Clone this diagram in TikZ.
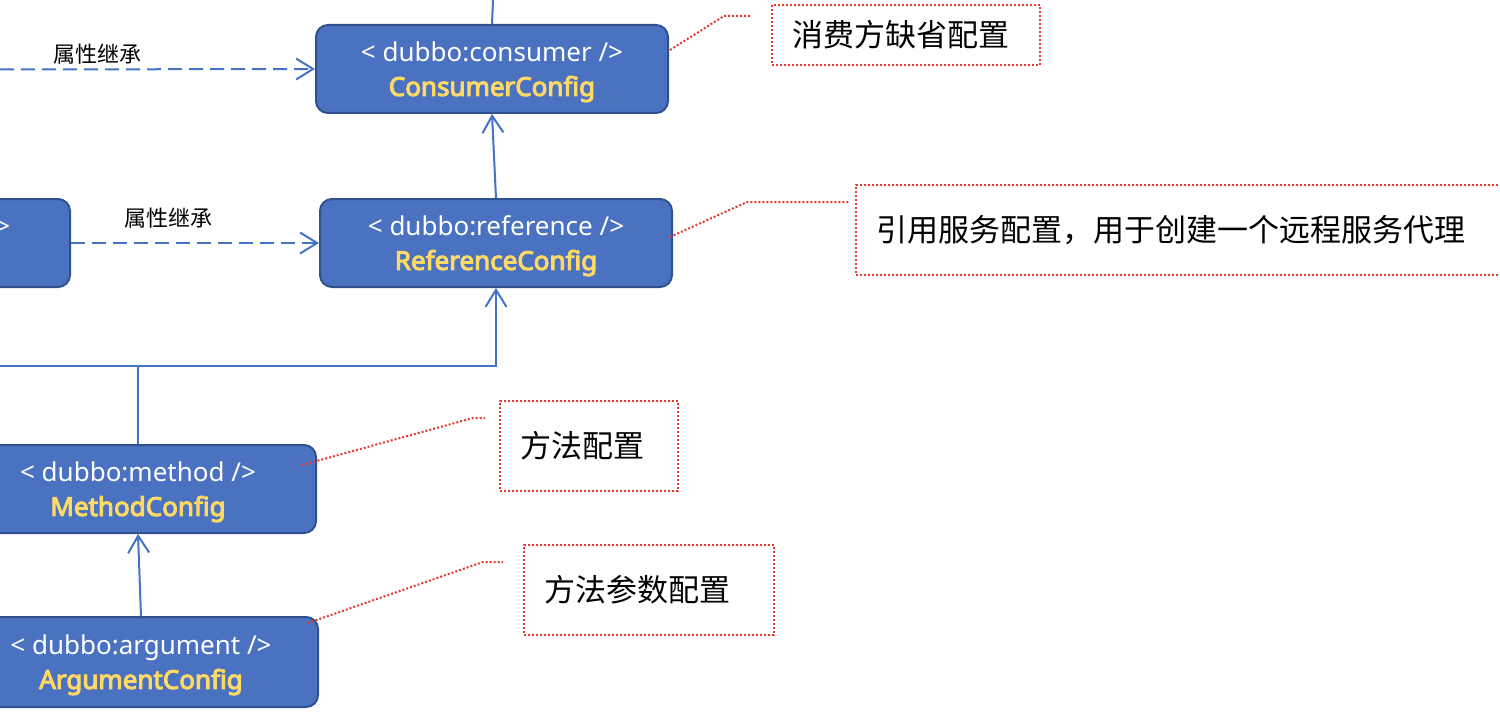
\documentclass[tikz,border=0pt]{standalone}
\usepackage{fontspec}
\setmainfont{Noto Sans}[AutoFakeBold=4]
\newfontfamily\cjk{Noto Sans CJK SC}
\usetikzlibrary{arrows.meta}
\definecolor{boxblue}{HTML}{4A72C0}
\definecolor{boxedge}{HTML}{2F528F}
\definecolor{linkblue}{HTML}{4472C4}
\definecolor{yel}{HTML}{FFD966}
\definecolor{dotred}{HTML}{E53A2E}
\newcommand{\cfgtext}[2]{\rule{0pt}{13pt}#1\\{\bfseries\color{yel}#2}}
\begin{document}
\begin{tikzpicture}[x=0.5pt,y=-0.5pt,
 cfg/.style={draw=boxedge, line width=1pt, fill=boxblue, rounded corners=6pt,
   minimum width=176pt, minimum height=44pt, align=center, text=white,
   font=\fontsize{13}{17}\selectfont, inner sep=0pt},
 link/.style={draw=linkblue, line width=1pt},
 arr/.style={link, -{Straight Barb[length=8.5pt,width=10.5pt,line width=1pt]}},
 inherit/.style={arr, dash pattern=on 7pt off 3.5pt},
 note/.style={draw=dotred, line width=1pt, dash pattern=on 1pt off 1pt,
   font=\cjk\fontsize{15.5}{18}\selectfont, align=left, inner xsep=10pt, inner ysep=0pt},
 lead/.style={draw=dotred, line width=1pt, dash pattern=on 1pt off 1pt},
 lbl/.style={font=\cjk\fontsize{11}{13}\selectfont, inner sep=0pt}]

\useasboundingbox (0,0) rectangle (1500,722);
\clip (0,0) rectangle (1500,722);

% boxes
\node[cfg] (cons) at (492,69) {\cfgtext{< dubbo:consumer />}{ConsumerConfig}};
\node[cfg] (ref) at (496,243) {\cfgtext{< dubbo:reference />}{ReferenceConfig}};
\node[cfg, minimum width=180pt] (svc) at (-110,243) {\cfgtext{\hspace*{8pt}< dubbo:service />}{ServiceConfig}};
\node[cfg, minimum width=178pt] (meth) at (138,489) {\cfgtext{< dubbo:method />}{MethodConfig}};
\node[cfg, minimum width=177pt, minimum height=45pt] (arg) at (141,662) {\cfgtext{< dubbo:argument />}{ArgumentConfig}};

% notes
\node[note, minimum width=134pt, minimum height=30pt, text width=114pt] (ncons) at (906,35) {消费方缺省配置};
\node[note, minimum width=332pt, minimum height=45pt, text width=312pt] (nref) at (1188,230) {引用服务配置，用于创建一个远程服务代理};
\node[note, minimum width=89pt, minimum height=45pt, text width=69pt] (nmeth) at (589,446) {方法配置};
\node[note, minimum width=125pt, minimum height=45pt, text width=105pt] (narg) at (649,590) {方法参数配置};

% inheritance labels
\node[lbl] (l1) at (98,54) {属性继承};
\node[lbl] (l2) at (168,218) {属性继承};

% connectors
\coordinate (top) at (493,0);
\draw[link] (cons.north) -- (top);
\draw[arr] (ref.north) -- (cons.south);
\coordinate (d1) at (0,69.5);
\draw[inherit] (d1) -- (cons.west);
\draw[inherit] (svc.east) -- (ref.west);
\coordinate (h0) at (0,366);
\draw[arr] (h0) -- (h0 -| ref.south) -- (ref.south);
\draw[link] (meth.north) -- (meth.north |- h0);
\draw[arr] (arg.north) -- (meth.south);

% leaders
\coordinate (c0) at (670,50); \coordinate (c1) at (724,16); \coordinate (c2) at (750,16);
\draw[lead] (c0) -- (c1) -- (c2);
\coordinate (r0) at (670,237); \coordinate (r1) at (747,202); \coordinate (r2) at (849,202);
\draw[lead] (r0) -- (r1) -- (r2);
\coordinate (m0) at (302,465); \coordinate (m1) at (473,418); \coordinate (m2) at (485,418);
\draw[lead] (m0) -- (m1) -- (m2);
\coordinate (a0) at (308,623); \coordinate (a1) at (483,562); \coordinate (a2) at (503,562);
\draw[lead] (a0) -- (a1) -- (a2);
\end{tikzpicture}
\end{document}
